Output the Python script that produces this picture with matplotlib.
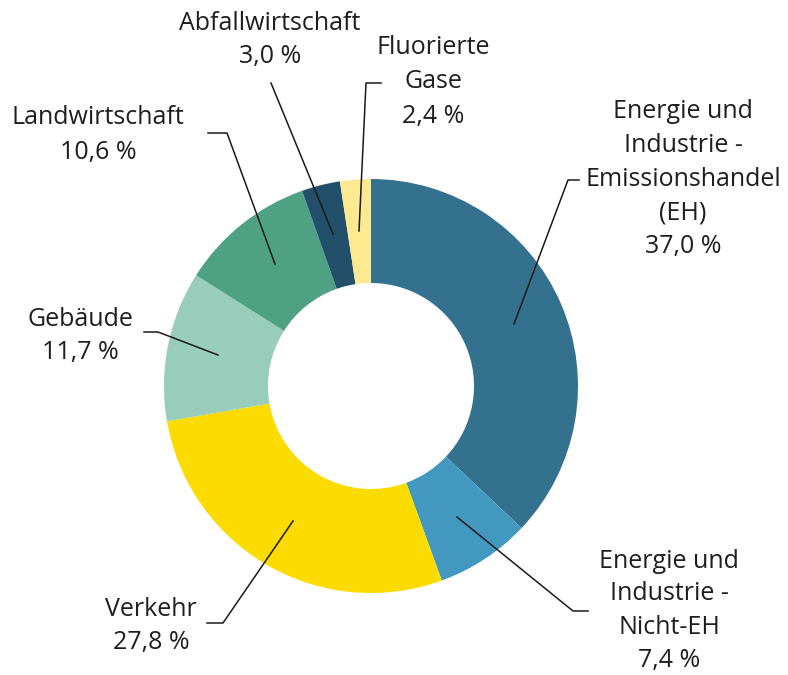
import matplotlib.pyplot as plt

plt.rcParams['font.family'] = ['Open Sans', 'DejaVu Sans']

# Anteile der Sektoren (%)
sektoren = ['Energie und Industrie - Emissionshandel (EH)',
            'Energie und Industrie - Nicht-EH',
            'Verkehr', 'Gebäude', 'Landwirtschaft',
            'Abfallwirtschaft', 'Fluorierte Gase']
anteile = [37.0, 7.4, 27.8, 11.7, 10.6, 3.0, 2.4]
farben = ['#33718f', '#4298bf', '#fcdb00', '#98cdbb', '#4ea283', '#22506a', '#fde98f']

# Beschriftungen (Zeilen) je Sektor
beschriftungen = [
    ['Energie und', 'Industrie -', 'Emissionshandel', '(EH)', '37,0 %'],
    ['Energie und', 'Industrie -', 'Nicht-EH', '7,4 %'],
    ['Verkehr', '27,8 %'],
    ['Gebäude', '11,7 %'],
    ['Landwirtschaft', '10,6 %'],
    ['Abfallwirtschaft', '3,0 %'],
    ['Fluorierte', 'Gase', '2,4 %'],
]

# Position der Textbloecke (Pixel, oben links = 0,0): x-Mitte, y der ersten Zeile
text_pos = [(683, 111), (669, 561), (151, 609), (80, 319),
            (98, 118), (270, 23), (433, 48)]

# Fuehrungslinien (Pixel)
linien = [
    [(514, 324), (568, 180), (579, 180)],
    [(457, 517), (573, 611), (588, 611)],
    [(293, 521), (223, 623), (207, 623)],
    [(218, 355), (158, 332), (144, 332)],
    [(275, 264), (227, 133), (208, 133)],
    [(333, 234), (271, 83)],
    [(359, 231), (366, 83), (381, 83)],
]

W, H = 788, 675
fig = plt.figure(figsize=(W / 100, H / 100), dpi=100)
ax = fig.add_axes([0, 0, 1, 1])

ax.pie(anteile, colors=farben, startangle=90, counterclock=False,
       radius=207, center=(371, H - 386),
       wedgeprops=dict(width=104, linewidth=0), frame=True)
ax.set_xlim(0, W)
ax.set_ylim(0, H)
ax.set_aspect('equal')
ax.axis('off')

for pts in linien:
    xs = [p[0] for p in pts]
    ys = [H - p[1] for p in pts]
    ax.plot(xs, ys, color='#1a1a1a', linewidth=1.1)

for zeilen, (x, y0) in zip(beschriftungen, text_pos):
    abstand = 33 if len(zeilen) == 4 else 34
    for i, z in enumerate(zeilen):
        ax.text(x, H - (y0 + i * abstand), z, ha='center', va='center',
                fontsize=18, color='#1e1e1e')

fig.savefig('out.png', dpi=100)
